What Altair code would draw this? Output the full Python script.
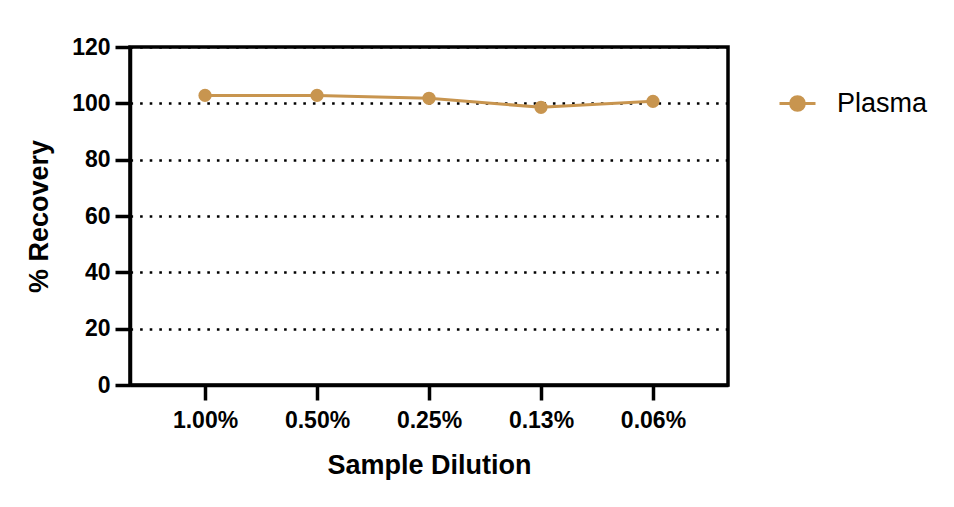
import pandas as pd
import altair as alt

dilution = ["1.00%", "0.50%", "0.25%", "0.13%", "0.06%"]
recovery = [102.8, 102.8, 101.8, 98.6, 100.7]
sample = ["Plasma"] * len(dilution)

COLOR = "#C8954F"
FONT = "Liberation Sans"

df = pd.DataFrame({"dilution": dilution, "recovery": recovery, "sample": sample})

# line + filled circle, drawn as one legend symbol
legend_path = ("M-1,0L1,0M-0.38,0A0.38,0.38,0,1,1,0.38,0"
               "A0.38,0.38,0,1,1,-0.38,0Z")

x_enc = alt.X("dilution:N", sort=dilution, title="Sample Dilution",
              scale=alt.Scale(padding=0.67),
              axis=alt.Axis(labelAngle=0, labelPadding=9, titlePadding=20,
                            grid=False))
y_enc = alt.Y("recovery:Q", title="% Recovery",
              scale=alt.Scale(domain=[0, 120], nice=False),
              axis=alt.Axis(values=[0, 20, 40, 60, 80, 100, 120],
                            labelPadding=5, titlePadding=18,
                            grid=True, gridColor="black", gridWidth=2.6,
                            gridDash=[2.6, 7]))

line = alt.Chart(df).mark_line(strokeWidth=3).encode(
    x=x_enc,
    y=y_enc,
    color=alt.Color("sample:N",
                    scale=alt.Scale(domain=["Plasma"], range=[COLOR]),
                    legend=alt.Legend(title=None, orient="none",
                                      legendX=648, legendY=37,
                                      symbolType=legend_path, symbolSize=1296,
                                      symbolStrokeWidth=3,
                                      symbolFillColor=COLOR,
                                      labelFont=FONT, labelFontSize=27,
                                      labelColor="black", labelOffset=20)),
)

points = alt.Chart(df).mark_circle(size=175, opacity=1, color=COLOR).encode(
    x=alt.X("dilution:N", sort=dilution),
    y=alt.Y("recovery:Q"),
)

chart = (
    alt.layer(line, points)
    .properties(width=598, height=338,
                autosize=alt.AutoSizeParams(type="none"),
                padding={"left": 122, "top": 39, "right": 218, "bottom": 114})
    .configure_view(stroke="black", strokeWidth=3.5)
    .configure_axis(
        labelFont=FONT, labelFontSize=23, labelFontWeight="bold",
        labelColor="black",
        titleFont=FONT, titleFontSize=27, titleFontWeight="bold",
        titleColor="black",
        domainColor="black", domainWidth=3.5,
        tickColor="black", tickWidth=3.5, tickSize=15,
    )
)

chart.save("out.html", embed_options={"renderer": "svg", "actions": False})
